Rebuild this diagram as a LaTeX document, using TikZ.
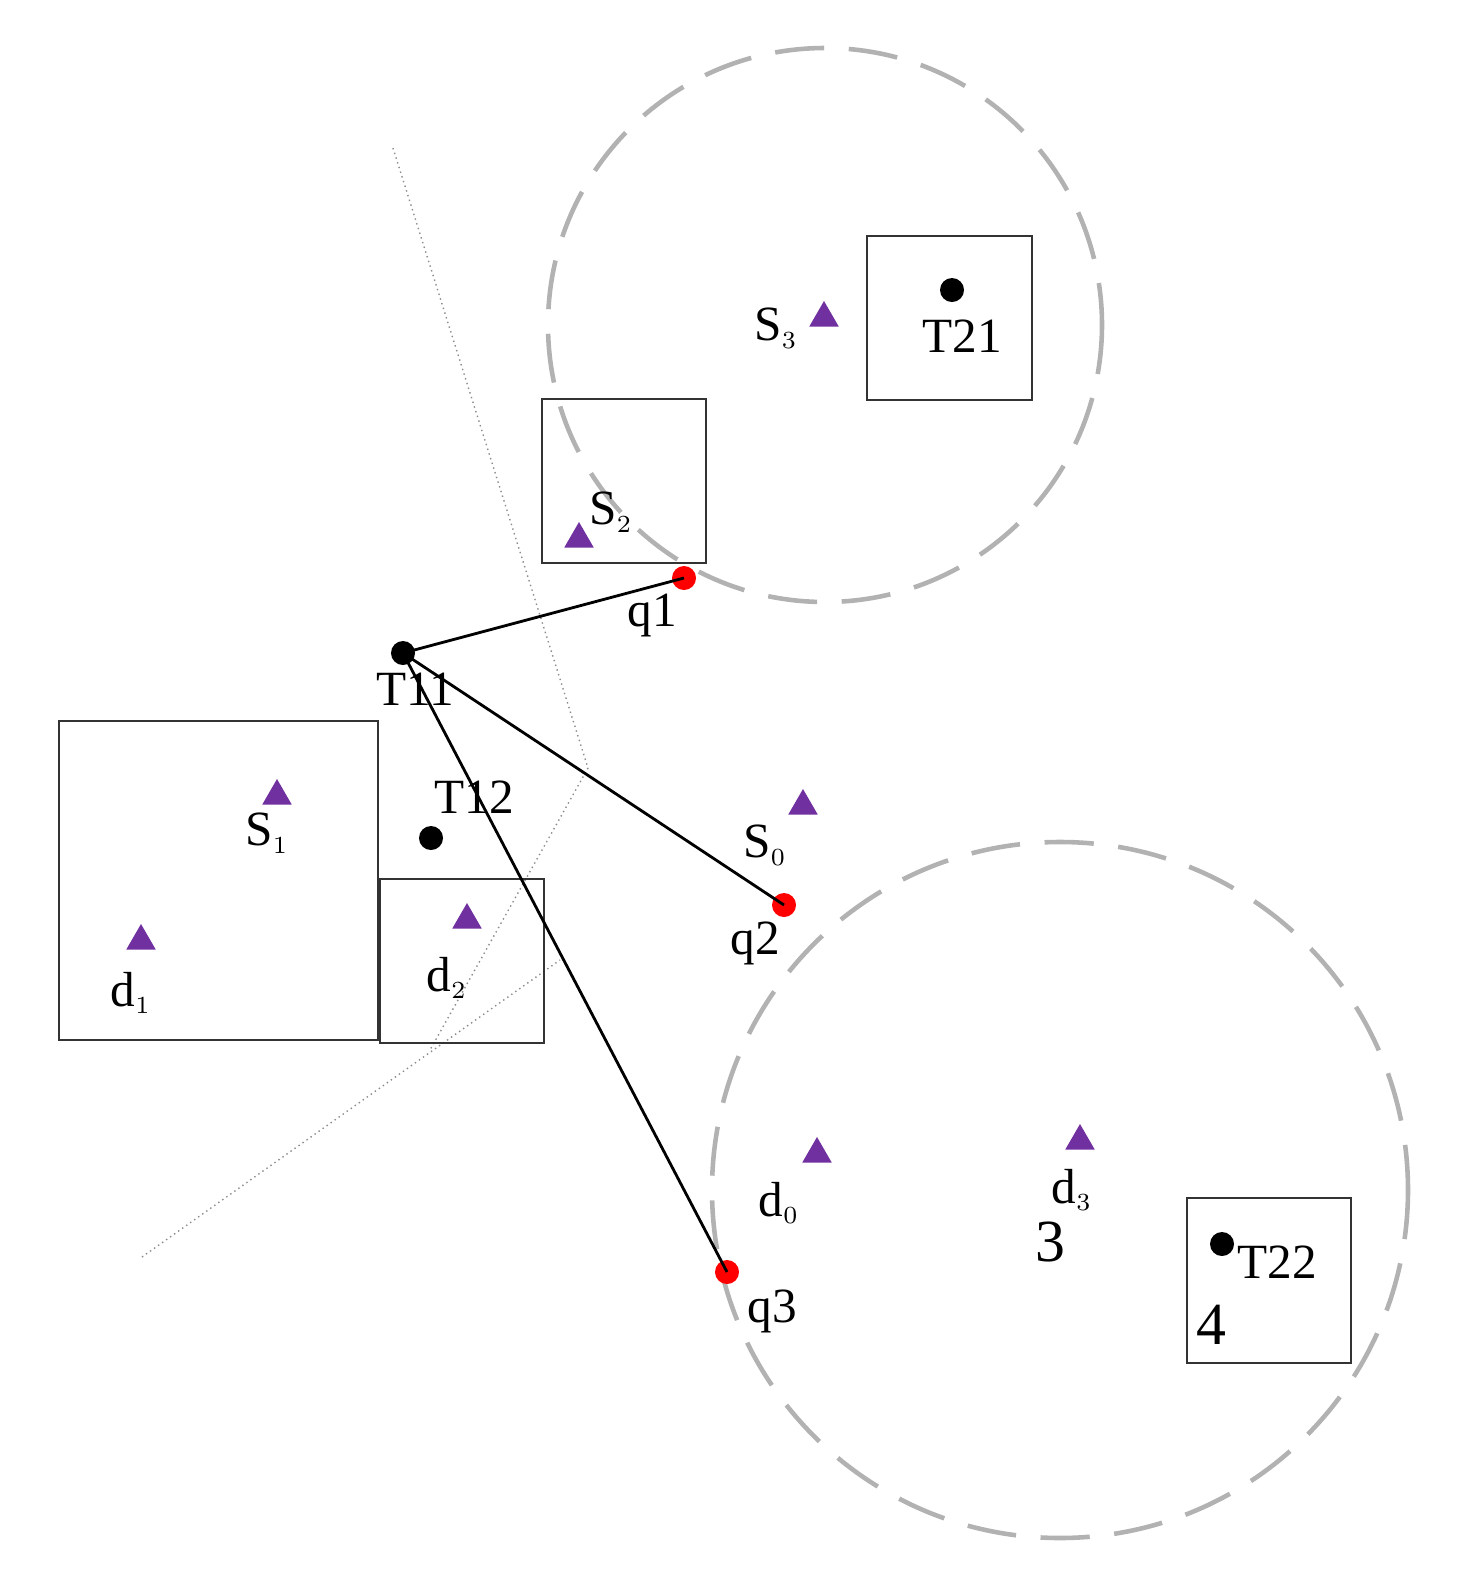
\documentclass[tikz,border=0pt]{standalone}
\usepackage{fontspec}
\setmainfont{Liberation Serif}
\usetikzlibrary{positioning,shapes.geometric}
\definecolor{sitepurple}{RGB}{112,48,160}
\tikzset{
  site/.style={regular polygon,regular polygon sides=3,fill=sitepurple,inner sep=0pt,minimum size=0.34cm},
  tnode/.style={circle,fill=black,inner sep=0pt,minimum size=0.24cm},
  qnode/.style={circle,fill=red,inner sep=0pt,minimum size=0.24cm},
  lbl/.style={font=\fontsize{14}{14}\selectfont,inner sep=1pt},
  zone/.style={draw=black!80,thick},
  cover/.style={draw=black!30,line width=1.3pt,dash pattern=on 14pt off 7pt},
  guide/.style={draw=black!45,densely dotted,thin}
}
\begin{document}
\begin{tikzpicture}[x=0.01cm,y=-0.01cm]
\useasboundingbox (0,0) rectangle (1466,1593);

% coverage circles
\draw[cover] (825,325) circle (277);
\draw[cover] (1060,1190) circle (348);

% guide lines
\coordinate (g1) at (393,148);
\coordinate (g2) at (588,768);
\coordinate (g3) at (430,1050);
\coordinate (g4) at (142,1257);
\coordinate (g5) at (560,960);
\draw[guide] (g1) -- (g2) -- (g3);
\draw[guide] (g4) -- (g5);

% boxes
\draw[zone] (867,236) rectangle (1032,400);
\draw[zone] (542,399) rectangle (706,563);
\draw[zone] (59,721) rectangle (378,1040);
\draw[zone] (380,879) rectangle (544,1043);
\draw[zone] (1187,1198) rectangle (1351,1363);

% points
\node[tnode] (T21) at (952,290) {};
\node[tnode] (T11) at (403,653) {};
\node[tnode] (T12) at (431,838) {};
\node[tnode] (T22) at (1222,1244) {};
\node[qnode] (q1) at (684,578) {};
\node[qnode] (q2) at (784,905) {};
\node[qnode] (q3) at (727,1272) {};

\node[site] (S3) at (824,318) {};
\node[site] (S2) at (579,539) {};
\node[site] (S1) at (277,796) {};
\node[site] (d1) at (141,941) {};
\node[site] (d2) at (467,920) {};
\node[site] (S0) at (803,806) {};
\node[site] (d0) at (817,1154) {};
\node[site] (d3) at (1080,1141) {};

% connections
\draw[thick] (T11.center) -- (q1.center);
\draw[thick] (T11.center) -- (q2.center);
\draw[thick] (T11.center) -- (q3.center);

% labels
\node[lbl] at (776,328) {S$_{\scriptscriptstyle 3}$};
\node[lbl] at (962,336) {T21};
\node[lbl] at (611,512) {S$_{\scriptscriptstyle 2}$};
\node[lbl] at (652,615) {q1};
\node[lbl] at (415,689) {T11};
\node[lbl] at (474,797) {T12};
\node[lbl] at (267,833) {S$_{\scriptscriptstyle 1}$};
\node[lbl] at (765,845) {S$_{\scriptscriptstyle 0}$};
\node[lbl] at (131,993) {d$_{\scriptscriptstyle 1}$};
\node[lbl] at (447,978) {d$_{\scriptscriptstyle 2}$};
\node[lbl] at (755,943) {q2};
\node[lbl] at (779,1203) {d$_{\scriptscriptstyle 0}$};
\node[lbl] at (1072,1190) {d$_{\scriptscriptstyle 3}$};
\node[lbl,font=\fontsize{17}{17}\selectfont] at (1050,1242) {3};
\node[lbl] at (1277,1262) {T22};
\node[lbl,font=\fontsize{17}{17}\selectfont] at (1211,1325) {4};
\node[lbl] at (772,1311) {q3};
\end{tikzpicture}
\end{document}
